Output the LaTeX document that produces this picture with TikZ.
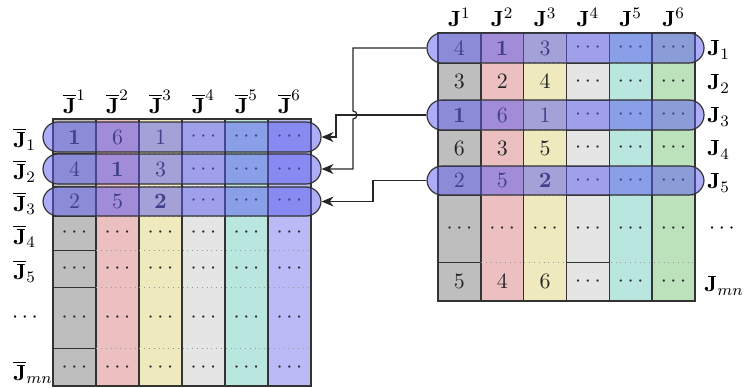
\documentclass[tikz,border=0pt]{standalone}
\usepackage{amssymb, amsfonts}
\usetikzlibrary{arrows.meta, calc, fit, positioning}
\definecolor{cgray}{RGB}{190,190,190}
\definecolor{cpink}{RGB}{236,192,192}
\definecolor{cyell}{RGB}{238,234,190}
\definecolor{clgray}{RGB}{229,229,229}
\definecolor{ccyan}{RGB}{186,230,224}
\definecolor{cgreen}{RGB}{188,226,188}
\definecolor{cviol}{RGB}{186,186,246}
\newcommand{\Jb}{\overline{\mathbf{J}}}
\newcommand{\Jr}{\mathbf{J}}

\begin{document}
\begin{tikzpicture}[x=0.5pt, y=-0.5pt, font=\fontsize{11}{13}\selectfont,
    hl/.style={draw=black!80, semithick, fill={rgb,255:red,90;green,90;blue,240}, fill opacity=0.5, rounded corners=7.5pt, inner sep=0pt},
    cell/.style={text=black!85, inner sep=1pt},
    conn/.style={-{Stealth[length=6pt, width=5pt]}, semithick, black!85}]
    \useasboundingbox (0,0) rectangle (743,387);

    \coordinate (K1) at (353,0);
    \coordinate (K2) at (336,0);
    \coordinate (K3) at (373,0);

    \foreach \c [count=\i from 0] in {cgray,cpink,cyell,clgray,ccyan,cgreen}
        \draw[fill=\c, draw=black!80, thick] ({438+42.83*\i},33) rectangle ({438+42.83*(\i+1)},301);
    \foreach \e in {63,100,130,166,195,262} {
        \draw[dotted, black!40] (438,\e) -- (695,\e);
        \draw[black!80] (438,\e) -- (481,\e);
        \draw[black!80] (566.5,\e) -- (609.3,\e);
    }
    \foreach \c [count=\i from 0] in {cgray,cpink,cyell,clgray,ccyan,cviol}
        \draw[fill=\c, draw=black!80, thick] ({53+43*\i},119) rectangle ({53+43*(\i+1)},386);
    \foreach \e in {153,186,216,250,287,348} {
        \draw[dotted, black!40] (53,\e) -- (311,\e);
        \draw[black!80] (53,\e) -- (96,\e);
    }

    \foreach \y/\a/\b/\c [count=\r] in {48/4/\mathbf{1}/3, 81.5/3/2/4, 115/\mathbf{1}/6/1, 148/6/3/5, 180.5/2/5/\mathbf{2}, 228.5/\cdots/\cdots/\cdots, 281.5/5/4/6}
        \foreach \v [count=\i from 0] in {\a,\b,\c,\cdots,\cdots,\cdots}
            \node[cell] (R\r-\i) at ({459.4+42.83*\i},\y) {$\v$};
    \foreach \y/\a/\b/\c [count=\r] in {137/\mathbf{1}/6/1, 169.5/4/\mathbf{1}/3, 201/2/5/\mathbf{2}, 233/\cdots/\cdots/\cdots, 268.5/\cdots/\cdots/\cdots, 317.5/\cdots/\cdots/\cdots, 367.5/\cdots/\cdots/\cdots}
        \foreach \v [count=\i from 0] in {\a,\b,\c,\cdots,\cdots,\cdots}
            \node[cell] (L\r-\i) at ({74.5+43*\i},\y) {$\v$};

    \foreach \i in {1,...,6} {
        \node (RH\i) at ({459.4+42.83*(\i-1)},17) {$\Jr^{\i}$};
        \node (LH\i) at ({74.5+43*(\i-1)},102) {$\Jb^{\i}$};
    }
    \foreach \y/\t [count=\r] in {50/1, 84/2, 117/3, 150/4, 183/5}
        \node[anchor=west, inner sep=0pt] (RL\r) at (707,\y) {$\Jr_{\t}$};
    \node[anchor=west, inner sep=0pt] (RL6) at (704,286) {$\Jr_{mn}$};
    \node (RLd) at (722,228.5) {$\cdots$};
    \foreach \y/\t [count=\r] in {139/1, 171/2, 203/3, 236/4, 271/5, 372/mn}
        \node[anchor=west, inner sep=0pt] (LL\r) at (13,\y) {$\Jb_{\t}$};
    \node (LLd) at (25,317.5) {$\cdots$};

    \node[hl, fit={(427,33) (704,63)}] (rJ1) {};
    \node[hl, fit={(427,100) (704,130)}] (rJ3) {};
    \node[hl, fit={(427,166) (704,195)}] (rJ5) {};
    \node[hl, fit={(43,122) (321,152)}] (lJ1) {};
    \node[hl, fit={(43,154) (321,184)}] (lJ2) {};
    \node[hl, fit={(43,187) (321,216)}] (lJ3) {};

    \draw[conn] (rJ1.west) -- (rJ1.west -| K1) -- ($(K1 |- rJ3.west)+(0,-4)$)
        arc[start angle=90, end angle=-90, radius=2pt] -- (K1 |- lJ2.east) -- (lJ2.east);
    \draw[conn] (rJ3.west) -- (rJ3.west -| K2) -- (K2 |- lJ1.east) -- (lJ1.east);
    \draw[conn] (rJ5.west) -- (rJ5.west -| K3) -- (K3 |- lJ3.east) -- (lJ3.east);
\end{tikzpicture}
\end{document}
